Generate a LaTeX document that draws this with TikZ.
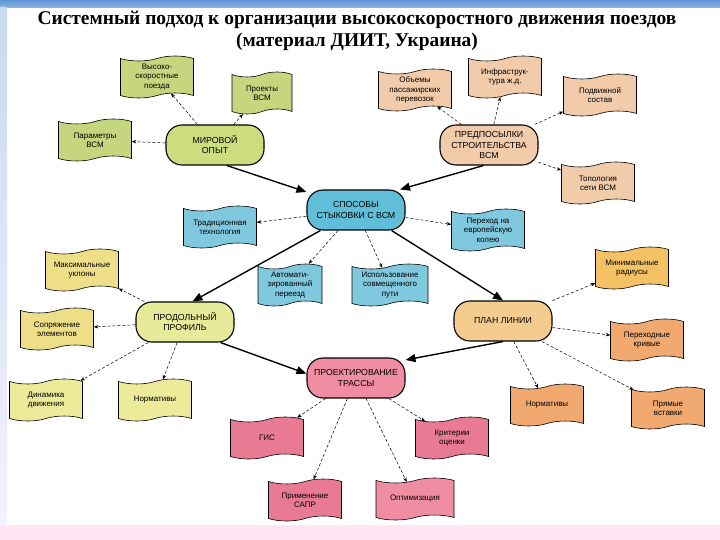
\documentclass[tikz,border=0pt]{standalone}
\usepackage{fontspec}
\setmainfont{Liberation Sans}
\newfontfamily\titlefont{Liberation Serif}
\usetikzlibrary{positioning, shapes.symbols, arrows.meta}

\definecolor{greenhub}{RGB}{204,221,128}
\definecolor{greenleaf}{RGB}{198,214,126}
\definecolor{peach}{RGB}{242,203,170}
\definecolor{bluehub}{RGB}{96,190,216}
\definecolor{blueleaf}{RGB}{128,200,222}
\definecolor{yellowhub}{RGB}{230,235,154}
\definecolor{yellowleaf}{RGB}{238,222,136}
\definecolor{paleyellow}{RGB}{237,234,153}
\definecolor{orangehub}{RGB}{245,204,143}
\definecolor{gold}{RGB}{244,194,101}
\definecolor{orangeleaf}{RGB}{242,169,112}
\definecolor{pinkhub}{RGB}{240,141,162}
\definecolor{pinkleaf}{RGB}{232,123,147}
\definecolor{slidebar}{RGB}{96,150,215}
\definecolor{slidepink}{RGB}{255,228,244}

\begin{document}
\begin{tikzpicture}[
    x=1bp, y=-1bp,
    on grid,
    hub/.style={rectangle, rounded corners=16bp, draw, line width=1.1bp,
        minimum width=98bp, minimum height=40bp, inner sep=1bp, align=center,
        font=\fontsize{8.8}{10.2}\selectfont},
    leaf/.style={tape, draw, line width=0.6bp, minimum width=73bp,
        minimum height=42bp, inner sep=1bp, align=center,
        font=\fontsize{8}{9.4}\selectfont},
    mainarrow/.style={line width=1.4bp, -{Triangle[length=10bp, width=8bp]}},
    subarrow/.style={dash pattern=on 3bp off 2bp, line width=0.5bp,
        -{Stealth[length=4.5bp, width=3.5bp]}}
]

% Slide background
\useasboundingbox (0,0) rectangle (720,540);
\fill[white] (0,0) rectangle (720,540);
\shade[top color=slidebar, bottom color=slidebar!70] (0,0) rectangle (720,8);
\shade[top color=slidebar!35, bottom color=slidepink!80!blue!20] (0,8) rectangle (7,525);
\fill[slidepink] (0,525) rectangle (720,540);

% Title
\node[align=center, font=\titlefont\bfseries\fontsize{19.5}{22}\selectfont] (title) at (357,31)
    {Системный подход к организации высокоскоростного движения поездов\\(материал ДИИТ, Украина)};

% Hubs
\node[hub, fill=greenhub] (mir) at (215,145) {МИРОВОЙ\\ОПЫТ};
\node[hub, fill=peach] (pred) at (489,145) {ПРЕДПОСЫЛКИ\\СТРОИТЕЛЬСТВА\\ВСМ};
\node[hub, fill=bluehub] (spos) at (356,210) {СПОСОБЫ\\СТЫКОВКИ С ВСМ};
\node[hub, fill=yellowhub] (prof) at (185,322) {ПРОДОЛЬНЫЙ\\ПРОФИЛЬ};
\node[hub, fill=orangehub] (plan) at (503,321) {ПЛАН ЛИНИИ};
\node[hub, fill=pinkhub] (proe) at (356,378) {ПРОЕКТИРОВАНИЕ\\ТРАССЫ};

% World experience
\node[leaf, fill=greenleaf, above left=68bp and 58bp of mir] (vsp) {Высоко-\\скоростные\\поезда};
\node[leaf, fill=greenleaf, above right=52bp and 47bp of mir, minimum width=60bp] (proj) {Проекты\\ВСМ};
\node[leaf, fill=greenleaf, above left=5bp and 120bp of mir] (param) {Параметры\\ВСМ};

% Preconditions
\node[leaf, fill=peach, above left=55bp and 74bp of pred] (obem) {Объемы\\пассажирских\\перевозок};
\node[leaf, fill=peach, above right=68bp and 16bp of pred] (infra) {Инфраструк-\\тура ж.д.};
\node[leaf, fill=peach, above right=50bp and 111bp of pred] (podv) {Подвижной\\состав};
\node[leaf, fill=peach, below right=38bp and 109bp of pred] (topo) {Топология\\сети ВСМ};

% Docking methods
\node[leaf, fill=blueleaf, below left=17bp and 136bp of spos] (trad) {Традиционная\\технология};
\node[leaf, fill=blueleaf, below right=20bp and 132bp of spos] (pere) {Переход на\\европейскую\\колею};
\node[leaf, fill=blueleaf, below left=75bp and 66bp of spos, minimum width=64bp] (auto) {Автомати-\\зированный\\переезд};
\node[leaf, fill=blueleaf, below right=75bp and 34bp of spos, minimum width=76bp] (isp) {Использование\\совмещенного\\пути};

% Longitudinal profile
\node[leaf, fill=yellowleaf, above left=52bp and 103bp of prof] (maxu) {Максимальные\\уклоны};
\node[leaf, fill=yellowleaf, below left=7bp and 128bp of prof] (sopr) {Сопряжение\\элементов};
\node[leaf, fill=paleyellow, below left=78bp and 139bp of prof] (dyn) {Динамика\\движения};
\node[leaf, fill=paleyellow, below left=78bp and 30bp of prof] (normL) {Нормативы};

% Line plan
\node[leaf, fill=gold, above right=53bp and 129bp of plan] (minr) {Минимальные\\радиусы};
\node[leaf, fill=orangeleaf, below right=19bp and 144bp of plan] (perk) {Переходные\\кривые};
\node[leaf, fill=orangeleaf, below right=84bp and 44bp of plan] (normR) {Нормативы};
\node[leaf, fill=orangeleaf, below right=87bp and 165bp of plan] (prya) {Прямые\\вставки};

% Route design
\node[leaf, fill=pinkleaf, below left=60bp and 89bp of proe] (gis) {ГИС};
\node[leaf, fill=pinkleaf, below right=60bp and 96bp of proe] (krit) {Критерии\\оценки};
\node[leaf, fill=pinkleaf, below left=122bp and 51bp of proe] (sapr) {Применение\\САПР};
\node[leaf, fill=pinkhub, below right=121bp and 59bp of proe, minimum width=78bp] (opti) {Оптимизация};

% Main flow
\draw[mainarrow] (mir.-60) -- (spos.160);
\draw[mainarrow] (pred.-105) -- (spos.25);
\draw[mainarrow] (spos.-150) -- (prof.70);
\draw[mainarrow] (spos.-30) -- (plan.north);
\draw[mainarrow] (prof.-30) -- (proe.175);
\draw[mainarrow] (plan.south) -- (proe.20);

% Sub topics
\foreach \a/\b in {mir/vsp, mir/proj, mir/param,
        pred/obem, pred/infra, pred/podv, pred/topo,
        spos/trad, spos/pere, spos/auto, spos/isp,
        prof/maxu, prof/sopr, prof/dyn, prof/normL,
        plan/minr, plan/perk, plan/normR, plan/prya,
        proe/gis, proe/krit, proe/sapr, proe/opti}
    \draw[subarrow] (\a) -- (\b);

\end{tikzpicture}
\end{document}
